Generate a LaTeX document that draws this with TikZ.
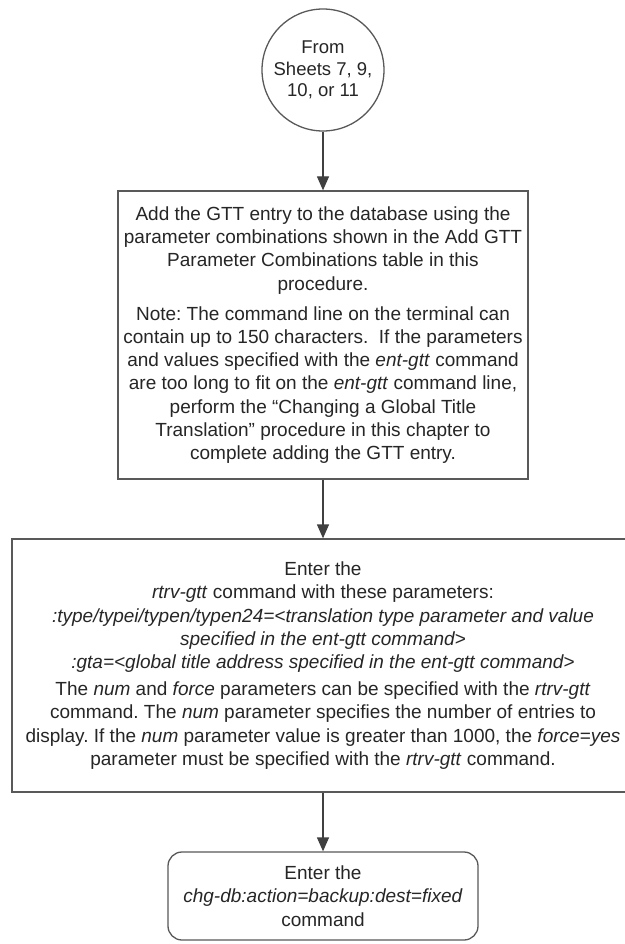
\documentclass[tikz,border=0pt]{standalone}
\usepackage{fontspec}
\setmainfont{Liberation Sans}
\usetikzlibrary{arrows.meta}
\frenchspacing
\begin{document}
\begin{tikzpicture}[x=1pt,y=-1pt,
  boxstyle/.style={draw=black!65, line width=1.3pt, fill=white, align=center, inner sep=0pt,
    text=black!85, font=\fontsize{19}{23.2}\selectfont},
  arr/.style={draw=black!75, line width=1.3pt, -{Triangle[length=14pt,width=12pt]}}]
\useasboundingbox (0,0) rectangle (624,944);
\fill[white] (0,0) rectangle (624,944);
\node[boxstyle, circle, minimum size=122pt, font=\fontsize{18.5}{21.5}\selectfont] (start) at (323,70)
  {From\\Sheets 7, 9,\\10, or 11};
\node[boxstyle, rectangle, minimum width=410pt, minimum height=288pt] (add) at (323,335)
  {Add the GTT entry to the database using the\\
   parameter combinations shown in the Add GTT\\
   Parameter Combinations table in this\\
   procedure.\\[7pt]
   Note: The command line on the terminal can\\
   contain up to 150 characters.\ \ If the parameters\\
   and values specified with the \textit{ent-gtt} command\\
   are too long to fit on the \textit{ent-gtt} command line,\\
   perform the “Changing a Global Title\\
   Translation” procedure in this chapter to\\
   complete adding the GTT entry.};
\node[boxstyle, rectangle, minimum width=622pt, minimum height=253pt] (rtrv) at (323,665.5)
  {Enter the\\
   \textit{rtrv-gtt} command with these parameters:\\
   \textit{:type/typei/typen/typen24=<translation type parameter and value}\\
   \textit{specified in the ent-gtt command>}\\
   \textit{:gta=<global title address specified in the ent-gtt command>}\\[4pt]
   The \textit{num} and \textit{force} parameters can be specified with the \textit{rtrv-gtt}\\
   command. The \textit{num} parameter specifies the number of entries to\\
   display. If the \textit{num} parameter value is greater than 1000, the \textit{force=yes}\\
   parameter must be specified with the \textit{rtrv-gtt} command.};
\node[boxstyle, rectangle, rounded corners=14pt, minimum width=310pt, minimum height=88pt] (chg) at (323,896)
  {Enter the\\
   \textit{chg-db:action=backup:dest=fixed}\\
   command};
\draw[arr] (start) -- (add);
\draw[arr] (add) -- (rtrv);
\draw[arr] (rtrv) -- (chg);
\end{tikzpicture}
\end{document}
